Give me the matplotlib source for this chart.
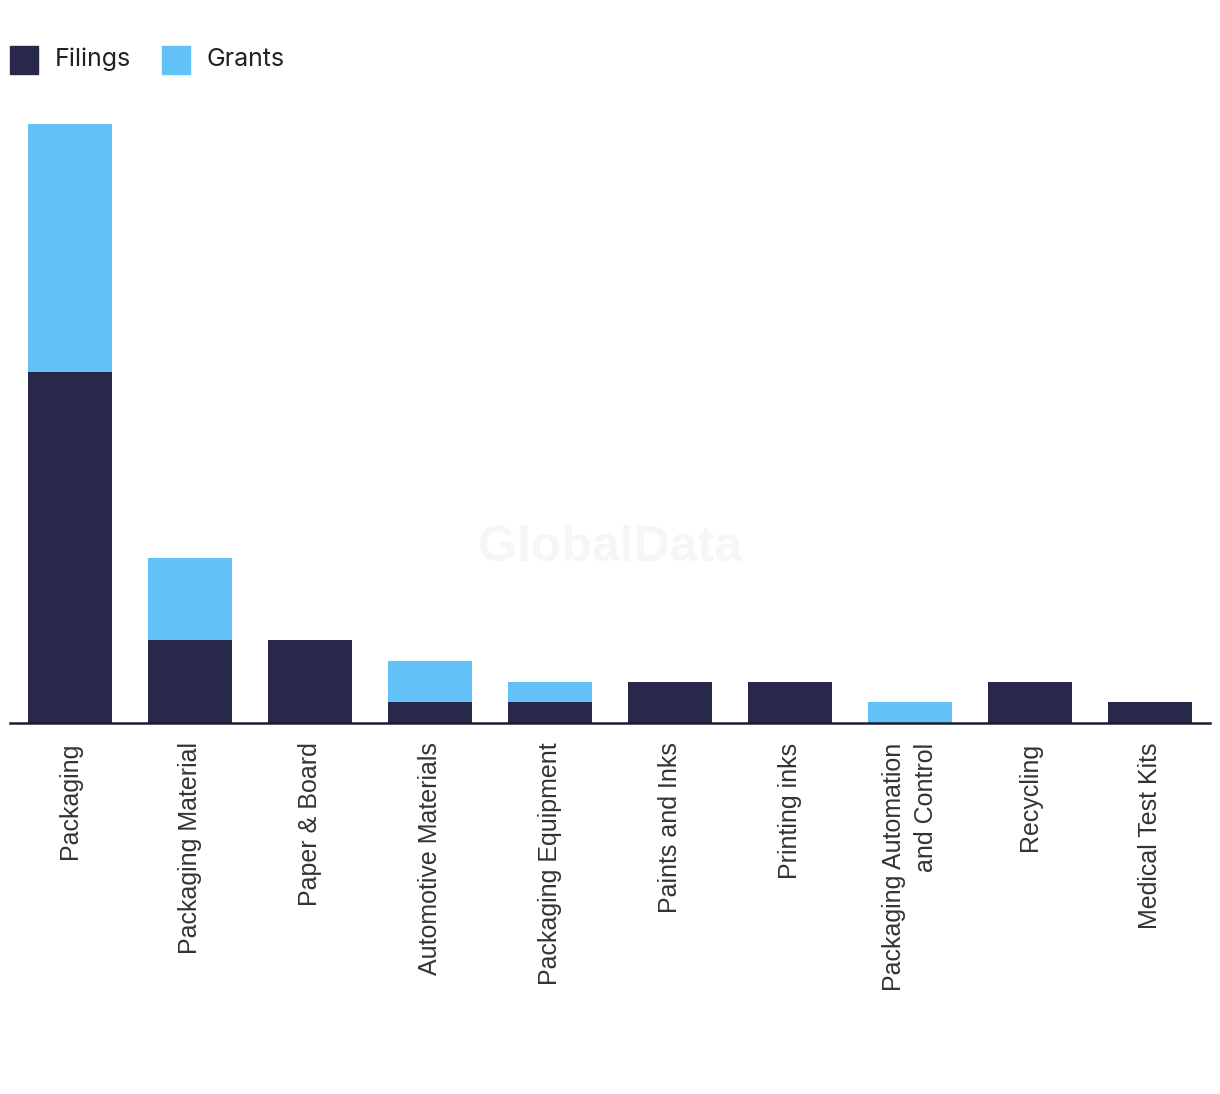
import matplotlib
import matplotlib.pyplot as plt
from matplotlib.patches import Rectangle
matplotlib.use("Agg")

categories = ["Packaging", "Packaging Material", "Paper & Board", "Automotive Materials",
              "Packaging Equipment", "Paints and Inks", "Printing inks",
              "Packaging Automation\nand Control", "Recycling", "Medical Test Kits"]
filings = [17, 4, 4, 1, 1, 2, 2, 0, 2, 1]
grants = [12, 4, 0, 2, 1, 0, 0, 1, 0, 0]
series_names = ["Filings", "Grants"]

navy = "#28284b"
blue = "#62c2f8"
W, H = 1220, 1094

fig = plt.figure(figsize=(12.2, 10.94), dpi=100)
ax = fig.add_axes([10 / W, 371 / H, 1200 / W, (723 - 103.5) / H])

x = range(len(categories))
ax.bar(x, filings, width=0.7, color=navy)
ax.bar(x, grants, width=0.7, bottom=filings, color=blue)

ax.set_xlim(-0.5, len(categories) - 0.5)
ax.set_ylim(0, 30)
for s in ["top", "right", "left"]:
    ax.spines[s].set_visible(False)
ax.spines["bottom"].set_color("#1c1c30")
ax.spines["bottom"].set_linewidth(1.8)
ax.set_yticks([])
ax.set_xticks(list(x))
ax.set_xticklabels(categories, rotation=90, fontsize=18, color="#333333",
                   family="Liberation Sans", multialignment="right", linespacing=1.4)
ax.tick_params(axis="x", length=0, pad=14)

# watermark
fig.text(610 / W, 1 - 548 / H, "GlobalData", ha="center", va="center",
         fontsize=36, fontweight="bold", color="#f6f6f6", family="Liberation Sans", zorder=0)

# legend drawn by hand for exact placement
for i, (name, col) in enumerate(zip(series_names, [navy, blue])):
    x0 = 10 + i * 152
    fig.patches.append(Rectangle((x0 / W, 1 - 74 / H), 28 / W, 28 / H, color=col,
                                 transform=fig.transFigure, figure=fig))
    fig.text((x0 + 45) / W, 1 - 59 / H, name, ha="left", va="center",
             fontsize=18, color="#222222", family="Inter")

fig.savefig("out.png", dpi=100)
